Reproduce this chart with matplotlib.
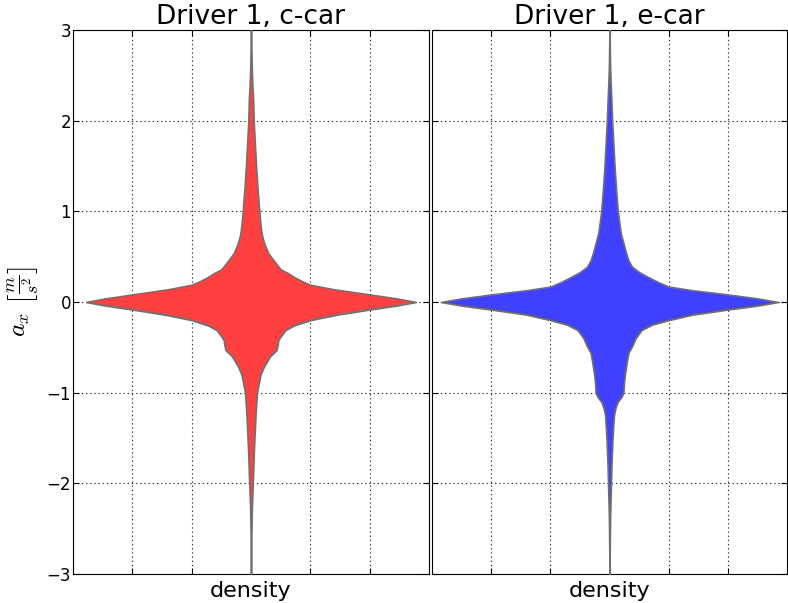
import matplotlib

matplotlib.use("Agg")

import matplotlib.pyplot as plt

# violin outline: acceleration level (m/s^2) and half width of the density shape
c_car_ax = [3.0, 2.8, 2.6, 2.4, 2.25, 2.0, 1.75, 1.5, 1.25, 1.0, 0.85, 0.75,
            0.65, 0.54, 0.46, 0.41, 0.36, 0.32, 0.27, 0.23, 0.19, 0.14, 0.085,
            0.04, 0.0, -0.04, -0.085, -0.14, -0.2, -0.26, -0.31, -0.38, -0.42,
            -0.47, -0.53, -0.6, -0.71, -0.8, -1.0, -1.15, -1.33, -1.5, -1.7,
            -2.0, -2.26, -2.5, -2.75, -3.0]
c_car_width = [0.0, 0.006, 0.012, 0.022, 0.035, 0.045, 0.065, 0.085, 0.11,
               0.14, 0.16, 0.18, 0.22, 0.29, 0.38, 0.44, 0.5, 0.62, 0.74, 0.86,
               1.0, 1.4, 1.98, 2.45, 2.78, 2.45, 1.98, 1.45, 1.0, 0.72, 0.58,
               0.5, 0.46, 0.45, 0.43, 0.32, 0.22, 0.16, 0.1, 0.085, 0.07, 0.058,
               0.045, 0.03, 0.015, 0.008, 0.003, 0.0]

e_car_ax = [3.0, 2.8, 2.6, 2.4, 2.25, 2.0, 1.75, 1.5, 1.25, 1.0, 0.76, 0.54,
            0.46, 0.39, 0.33, 0.28, 0.22, 0.17, 0.13, 0.085, 0.04, 0.0, -0.04,
            -0.085, -0.14, -0.2, -0.25, -0.31, -0.4, -0.49, -0.56, -0.67,
            -0.8, -0.89, -1.0, -1.05, -1.1, -1.17, -1.25, -1.4, -1.52, -1.78,
            -2.0, -2.37, -2.7, -3.0]
e_car_width = [0.0, 0.005, 0.01, 0.02, 0.03, 0.045, 0.065, 0.085, 0.11, 0.14,
               0.19, 0.28, 0.32, 0.38, 0.5, 0.64, 0.82, 1.0, 1.4, 1.98, 2.5,
               2.85, 2.5, 1.98, 1.4, 1.0, 0.72, 0.54, 0.44, 0.38, 0.32, 0.29,
               0.26, 0.245, 0.235, 0.2, 0.14, 0.1, 0.075, 0.06, 0.05, 0.034,
               0.025, 0.01, 0.004, 0.0]

titles = ["Driver 1, c-car", "Driver 1, e-car"]
colors = ["#ff4040", "#4040ff"]
y_ticks = [-3, -2, -1, 0, 1, 2, 3]
x_ticks = [-2, -1, 0, 1, 2]


def draw_violin(ax, levels, widths, color, title):
    neg = [-w for w in widths]
    ax.fill_betweenx(levels, neg, widths, facecolor=color,
                     edgecolor="#707070", linewidth=1.2, zorder=3)
    ax.set_xlim(-3, 3)
    ax.set_ylim(-3, 3)
    ax.set_xticks(x_ticks)
    ax.set_xticklabels([])
    ax.set_yticks(y_ticks)
    ax.grid(True, color="#333333", linestyle=(0, (1, 2)), linewidth=0.8)
    ax.tick_params(direction="in", top=True, right=True, length=4,
                   width=0.8, labelsize=12, pad=1.5)
    ax.set_xlabel("density", fontsize=16, labelpad=3.5)
    ax.set_title(title, fontsize=19, pad=4)


def main():
    plt.rcParams["mathtext.fontset"] = "cm"
    plt.rcParams["lines.scale_dashes"] = False
    fig = plt.figure(figsize=(7.88, 6.03), dpi=100)
    ax1 = fig.add_axes([73 / 788, 29 / 603, 356 / 788, 544 / 603])
    ax2 = fig.add_axes([432 / 788, 29 / 603, 355 / 788, 544 / 603], sharey=ax1)

    draw_violin(ax1, c_car_ax, c_car_width, colors[0], titles[0])
    draw_violin(ax2, e_car_ax, e_car_width, colors[1], titles[1])
    ax2.tick_params(labelleft=False)

    ax1.set_ylabel(r"$a_x\ \left[\frac{m}{s^2}\right]$", fontsize=18.5,
                   labelpad=3)

    fig.savefig("out.png", dpi=100)
    plt.close(fig)


if __name__ == "__main__":
    main()
